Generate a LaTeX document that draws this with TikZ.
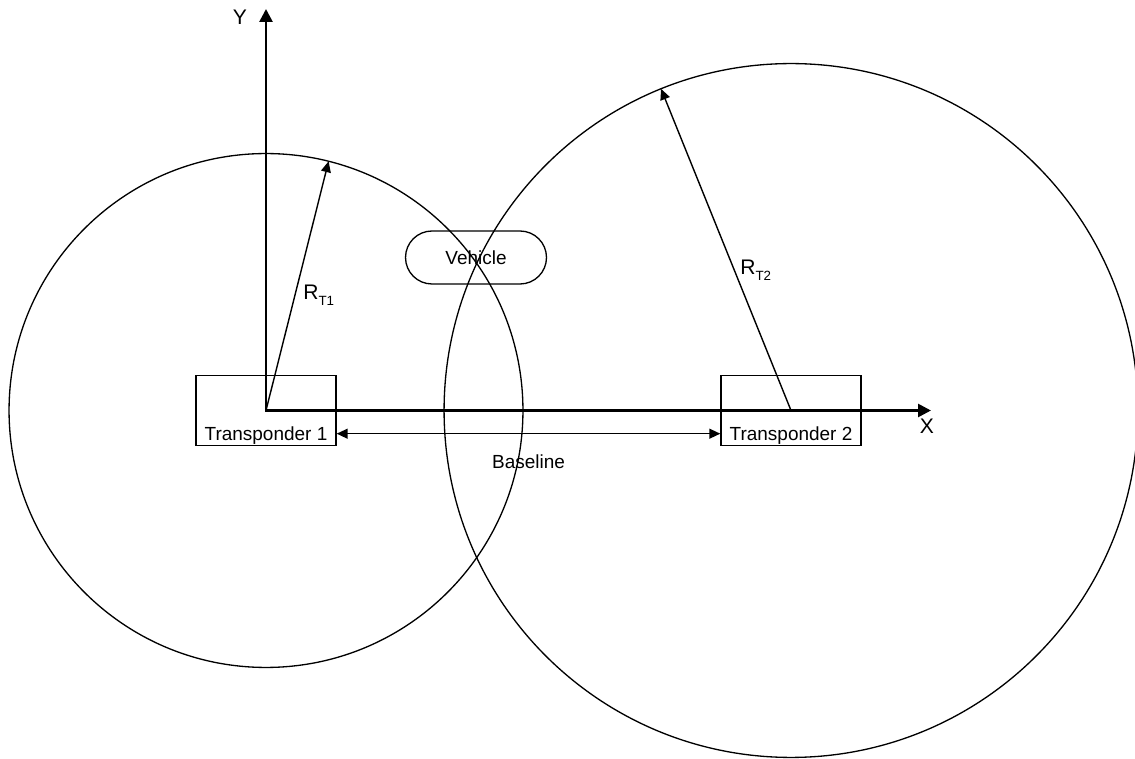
\documentclass[tikz,border=0pt]{standalone}
\usepackage{fontspec}
\setmainfont{Liberation Sans}
\usetikzlibrary{arrows.meta}
\newcommand\rsub[1]{R\raisebox{-3.2pt}{\fontsize{7.6}{8}\selectfont T#1}}

\begin{document}
\begin{tikzpicture}[x=0.02cm,y=-0.02cm,>={Triangle[length=6.2pt,width=5.6pt]},
  axis/.style={line width=1.5pt,{Triangle[length=7.4pt,width=7.4pt]}-{Triangle[length=7.4pt,width=7.4pt]}},
  rline/.style={line width=0.8pt,->},
  ring/.style={line width=0.75pt},
  tbox/.style={draw,line width=0.8pt,minimum width=2.8cm,minimum height=1.4cm,inner sep=0pt},
  txt/.style={font=\fontsize{10.8}{13}\selectfont},
  big/.style={font=\fontsize{12}{14}\selectfont}]
\def\rA{5.14cm}\def\rB{6.94cm}
\useasboundingbox (0,0) rectangle (1135,759);
\coordinate (o) at (266,410.5);
\coordinate (c2) at (791,410.5);
\draw[ring] (o) circle[radius=\rA];
\draw[ring] (c2) circle[radius=\rB];
\node[tbox] (t1) at (o) {};
\node[tbox] (t2) at (c2) {};
\node[txt,anchor=base] (t1lab) at ([yshift=3.4pt]t1.south) {Transponder 1};
\node[txt,anchor=base] (t2lab) at ([yshift=3.4pt]t2.south) {Transponder 2};
\coordinate (ytip) at (266,9);
\coordinate (xtip) at (931,410.5);
\draw[axis] (ytip) -- (o) -- (xtip);
\node[big] (ylab) at (240,17) {Y};
\node[big] (xlab) at (927,426) {X};
\coordinate (r1) at ([shift={(75.9:\rA)}]o);
\coordinate (r2) at ([shift={(112:\rB)}]c2);
\draw[rline] (o) -- (r1);
\draw[rline] (c2) -- (r2);
\node[big,anchor=base west,inner sep=0pt] (rt1) at (303,300) {\rsub{1}};
\node[big,anchor=base west,inner sep=0pt] (rt2) at (740,275) {\rsub{2}};
\node[draw,txt,ring,rounded corners=0.53cm,minimum width=2.82cm,minimum height=1.06cm] (veh) at (476,257.5) {Vehicle};
\draw[rline,<->] ([yshift=-13.2pt]t1.east) -- ([yshift=-13.2pt]t2.west) node[midway,yshift=-15.9pt,txt] (bl) {Baseline};
\end{tikzpicture}
\end{document}
